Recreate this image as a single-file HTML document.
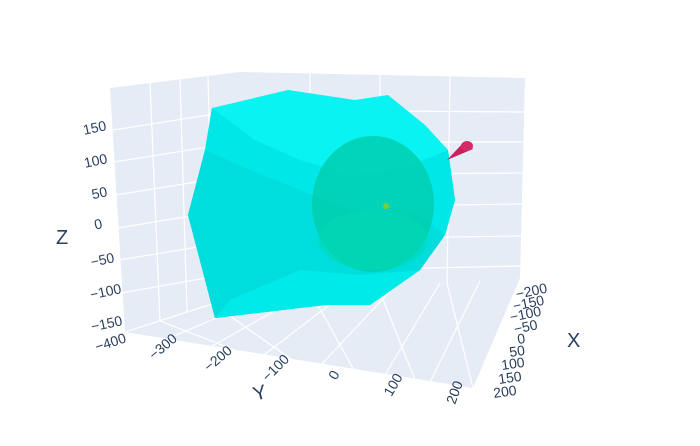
<!DOCTYPE html>
<html><head><style>
body{margin:0;background:#fff;}
svg{display:block;font-family:"Liberation Sans",sans-serif;}
.t{font-size:14px;fill:#2a3f5f;}
</style></head><body>
<svg width="700" height="446" viewBox="0 0 700 446">
<polygon points="110,88 240,72 240,295 125,332" fill="#e5ecf6"/>
<polygon points="240,72 525,78 520,278 240,295" fill="#e5ecf6"/>
<polygon points="125,332 240,295 520,278 473,388" fill="#e5ecf6"/>
<g stroke="#fff" stroke-width="1.2" fill="none">
<line x1="150" y1="83" x2="160" y2="321"/><line x1="180" y1="79" x2="187" y2="312"/><line x1="208" y1="76" x2="213" y2="304"/>
<path d="M113,130 L240,110 M114,162 L240,142 M115,195 L240,175 M117,228 L240,208 M119,260 L240,240 M121,293 L240,272"/>
<line x1="310" y1="73" x2="310" y2="291"/><line x1="380" y1="75" x2="378" y2="287"/><line x1="450" y1="76" x2="447" y2="283"/>
<path d="M240,110 L524,112 M240,142 L523,142 M240,175 L523,173 M240,208 L522,204 M240,240 L521,236 M240,272 L520,266"/>
<path d="M160,321 L235,350 M213,304 L295,362 M310,291 L355,372 M378,287 L415,380 M447,283 L473,388"/>
<path d="M240,295 L125,332 M275,293 L160,342 M310,291 L205,350 M350,289 L260,358 M395,286 L320,366 M440,283 L385,375 M480,281 L430,382"/>
</g>
<polygon points="212,108 288,90 355,100 388,95 425,125 448,150 455,200 445,235 420,270 370,305 325,305 215,318 188,215 205,150" fill="#00f2f2" opacity="0.96"/>
<polygon points="212,108 255,140 300,160 350,175 400,170 448,150 455,200 445,235 420,270 370,305 325,305 215,318 188,215 205,150" fill="#00e6e6" opacity="0.9"/>
<polygon points="205,150 250,170 300,190 350,210 420,215 445,235 420,270 370,305 325,305 215,318 188,215" fill="#00dcdc" opacity="0.9"/>
<polygon points="230,300 300,270 360,275 420,270 370,305 325,305 215,318" fill="#00eaea"/>
<ellipse cx="373" cy="204" rx="61" ry="68" fill="#00cfae" opacity="0.85"/>
<ellipse cx="373" cy="240" rx="55" ry="30" fill="#00dab4" opacity="0.5"/>
<circle cx="386" cy="206" r="3" fill="#7ccc3a"/>
<polygon points="447,160 464,142 473,149" fill="#cc1f5e"/>
<ellipse cx="467" cy="146" rx="6" ry="5" fill="#d42a66"/>
<g class="t" text-anchor="end">
<text x="107" y="130" transform="rotate(-12 107 130)">150</text>
<text x="108" y="163" transform="rotate(-12 108 163)">100</text>
<text x="108" y="196" transform="rotate(-12 108 196)">50</text>
<text x="103" y="228" transform="rotate(-12 103 228)">0</text>
<text x="115" y="262" transform="rotate(-12 115 262)">−50</text>
<text x="122" y="293" transform="rotate(-12 122 293)">−100</text>
<text x="123" y="325" transform="rotate(-12 123 325)">−150</text>
<text x="127" y="342" transform="rotate(-18 127 342)">−400</text>
</g>
<g class="t" text-anchor="end">
<text x="178" y="340" transform="rotate(-40 178 340)">−300</text>
<text x="233" y="352" transform="rotate(-40 233 352)">−200</text>
<text x="290" y="360" transform="rotate(-45 290 360)">−100</text>
<text x="340" y="374" transform="rotate(-60 340 374)">0</text>
<text x="403" y="377" transform="rotate(-60 403 377)">100</text>
<text x="463" y="383" transform="rotate(-70 463 383)">200</text>
</g>
<g class="t">
<text x="517" y="299" transform="rotate(-12 517 299)">−200</text>
<text x="514" y="311" transform="rotate(-12 514 311)">−150</text>
<text x="511" y="322" transform="rotate(-12 511 322)">−100</text>
<text x="515" y="334" transform="rotate(-12 515 334)">−50</text>
<text x="518" y="344" transform="rotate(-8 518 344)">0</text>
<text x="510" y="357" transform="rotate(-8 510 357)">50</text>
<text x="502" y="370" transform="rotate(-8 502 370)">100</text>
<text x="499" y="384" transform="rotate(-8 499 384)">150</text>
<text x="494" y="398" transform="rotate(-8 494 398)">200</text>
</g>
<text x="567" y="347" font-size="20" fill="#2a3f5f">X</text>
<text x="255" y="401" font-size="20" fill="#2a3f5f" transform="rotate(-15 255 401)">Y</text>
<text x="56" y="244" font-size="20" fill="#2a3f5f">Z</text>
</svg>
</body></html>
